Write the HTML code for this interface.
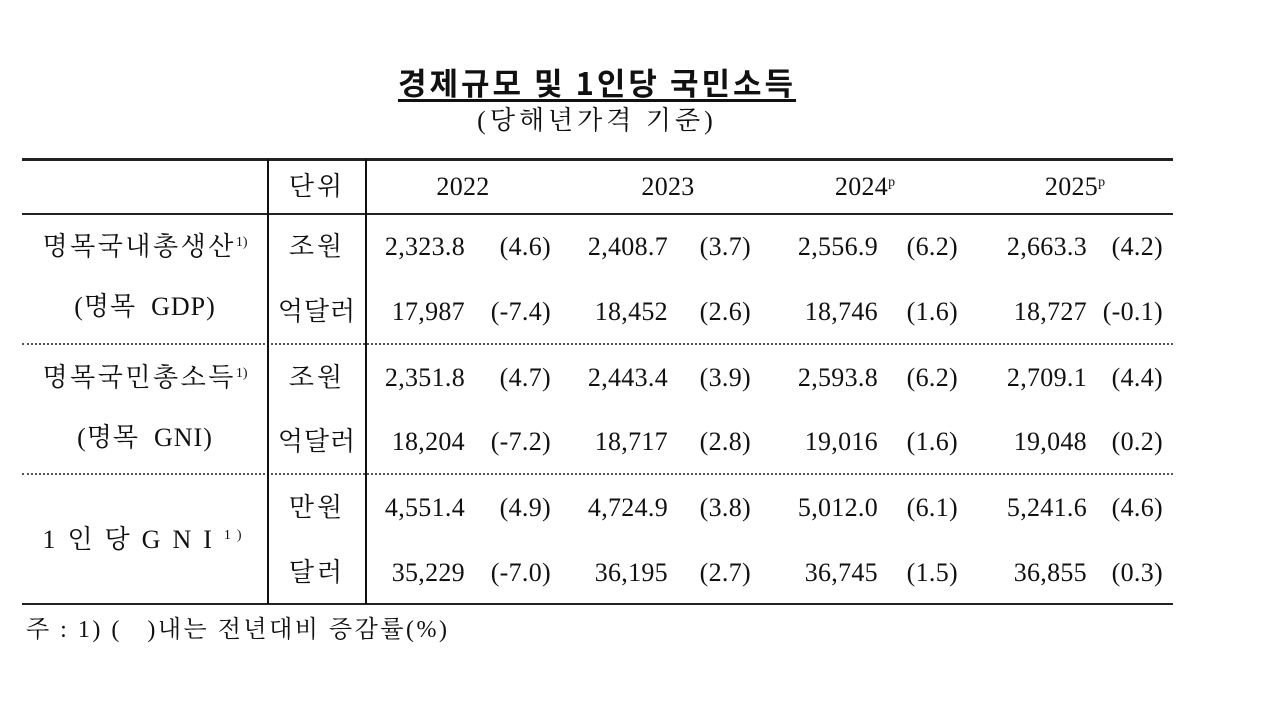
<!DOCTYPE html>
<html><head><meta charset="utf-8"><style>
body{margin:0;width:1280px;height:720px;background:#fff;position:relative;overflow:hidden;font-family:"Liberation Serif","Noto Serif CJK KR","Noto Serif CJK SC",serif;color:#111}
.a{position:absolute;white-space:nowrap;font-size:26px;line-height:30px;letter-spacing:0.3px}
.k{letter-spacing:3px}
.r{text-align:right}
.c{text-align:center}
.h{position:absolute;left:22px;width:1151px;background:#222}
.v{position:absolute;top:159px;height:445px;width:2px;background:#111}
.d{position:absolute;left:22px;width:1151px;border-top:2px dotted #555;height:0}
sup{font-size:14px;vertical-align:top;position:relative;top:-4px;letter-spacing:0}
</style></head><body>
<div class="a c" style="left:200px;width:794px;top:64px;font-size:31px;font-weight:bold;line-height:36px;letter-spacing:3px"><span style="text-decoration:underline;text-underline-offset:4px;font-family:'Noto Sans CJK KR','Noto Sans CJK SC',sans-serif">경제규모 및 1인당 국민소득</span></div>
<div class="a c k" style="left:300px;width:594px;top:106px;font-size:26px;letter-spacing:4px">(당해년가격 기준)</div>
<div class="h" style="top:158px;height:3px"></div>
<div class="h" style="top:213px;height:2px"></div>
<div class="d" style="top:343px"></div>
<div class="d" style="top:473px"></div>
<div class="h" style="top:603px;height:2px"></div>
<div class="v" style="left:267px"></div>
<div class="v" style="left:365px"></div>

<div class="a c k" style="left:268px;width:98px;top:172px">단위</div>
<div class="a c" style="left:413px;width:100px;top:172px">2022</div>
<div class="a c" style="left:618px;width:100px;top:172px">2023</div>
<div class="a c" style="left:815px;width:100px;top:172px">2024<sup>p</sup></div>
<div class="a c" style="left:1025px;width:100px;top:172px">2025<sup>p</sup></div>

<div class="a c k" style="left:22px;width:246px;top:232px;letter-spacing:2.5px">명목국내총생산<sup>1)</sup></div>
<div class="a c" style="left:22px;width:246px;top:292px;letter-spacing:1px">(명목&nbsp; GDP)</div>
<div class="a c k" style="left:22px;width:246px;top:363px;letter-spacing:2.5px">명목국민총소득<sup>1)</sup></div>
<div class="a c" style="left:22px;width:246px;top:423px;letter-spacing:1px">(명목&nbsp; GNI)</div>
<div class="a c" style="left:22px;width:246px;top:525px;letter-spacing:12px">1인당GNI<sup style="letter-spacing:6px">1)</sup></div>

<div class="a c k" style="left:268px;width:98px;top:232px">조원</div>
<div class="a c" style="left:268px;width:98px;top:297px;letter-spacing:1px">억달러</div>
<div class="a c k" style="left:268px;width:98px;top:363px">조원</div>
<div class="a c" style="left:268px;width:98px;top:427px;letter-spacing:1px">억달러</div>
<div class="a c k" style="left:268px;width:98px;top:493px">만원</div>
<div class="a c k" style="left:268px;width:98px;top:558px">달러</div>

<div class="a r" style="left:265px;width:200px;top:232px">2,323.8</div><div class="a r" style="left:451px;width:100px;top:232px">(4.6)</div>
<div class="a r" style="left:468px;width:200px;top:232px">2,408.7</div><div class="a r" style="left:651px;width:100px;top:232px">(3.7)</div>
<div class="a r" style="left:678px;width:200px;top:232px">2,556.9</div><div class="a r" style="left:858px;width:100px;top:232px">(6.2)</div>
<div class="a r" style="left:887px;width:200px;top:232px">2,663.3</div><div class="a r" style="left:1063px;width:100px;top:232px">(4.2)</div>

<div class="a r" style="left:265px;width:200px;top:297px">17,987</div><div class="a r" style="left:451px;width:100px;top:297px">(-7.4)</div>
<div class="a r" style="left:468px;width:200px;top:297px">18,452</div><div class="a r" style="left:651px;width:100px;top:297px">(2.6)</div>
<div class="a r" style="left:678px;width:200px;top:297px">18,746</div><div class="a r" style="left:858px;width:100px;top:297px">(1.6)</div>
<div class="a r" style="left:887px;width:200px;top:297px">18,727</div><div class="a r" style="left:1063px;width:100px;top:297px">(-0.1)</div>

<div class="a r" style="left:265px;width:200px;top:363px">2,351.8</div><div class="a r" style="left:451px;width:100px;top:363px">(4.7)</div>
<div class="a r" style="left:468px;width:200px;top:363px">2,443.4</div><div class="a r" style="left:651px;width:100px;top:363px">(3.9)</div>
<div class="a r" style="left:678px;width:200px;top:363px">2,593.8</div><div class="a r" style="left:858px;width:100px;top:363px">(6.2)</div>
<div class="a r" style="left:887px;width:200px;top:363px">2,709.1</div><div class="a r" style="left:1063px;width:100px;top:363px">(4.4)</div>

<div class="a r" style="left:265px;width:200px;top:427px">18,204</div><div class="a r" style="left:451px;width:100px;top:427px">(-7.2)</div>
<div class="a r" style="left:468px;width:200px;top:427px">18,717</div><div class="a r" style="left:651px;width:100px;top:427px">(2.8)</div>
<div class="a r" style="left:678px;width:200px;top:427px">19,016</div><div class="a r" style="left:858px;width:100px;top:427px">(1.6)</div>
<div class="a r" style="left:887px;width:200px;top:427px">19,048</div><div class="a r" style="left:1063px;width:100px;top:427px">(0.2)</div>

<div class="a r" style="left:265px;width:200px;top:493px">4,551.4</div><div class="a r" style="left:451px;width:100px;top:493px">(4.9)</div>
<div class="a r" style="left:468px;width:200px;top:493px">4,724.9</div><div class="a r" style="left:651px;width:100px;top:493px">(3.8)</div>
<div class="a r" style="left:678px;width:200px;top:493px">5,012.0</div><div class="a r" style="left:858px;width:100px;top:493px">(6.1)</div>
<div class="a r" style="left:887px;width:200px;top:493px">5,241.6</div><div class="a r" style="left:1063px;width:100px;top:493px">(4.6)</div>

<div class="a r" style="left:265px;width:200px;top:558px">35,229</div><div class="a r" style="left:451px;width:100px;top:558px">(-7.0)</div>
<div class="a r" style="left:468px;width:200px;top:558px">36,195</div><div class="a r" style="left:651px;width:100px;top:558px">(2.7)</div>
<div class="a r" style="left:678px;width:200px;top:558px">36,745</div><div class="a r" style="left:858px;width:100px;top:558px">(1.5)</div>
<div class="a r" style="left:887px;width:200px;top:558px">36,855</div><div class="a r" style="left:1063px;width:100px;top:558px">(0.3)</div>

<div class="a" style="left:26px;top:615px;font-size:24px;letter-spacing:2.5px">주 : 1) (&nbsp;&nbsp;&nbsp;)내는 전년대비 증감률(%)</div>
</body></html>
